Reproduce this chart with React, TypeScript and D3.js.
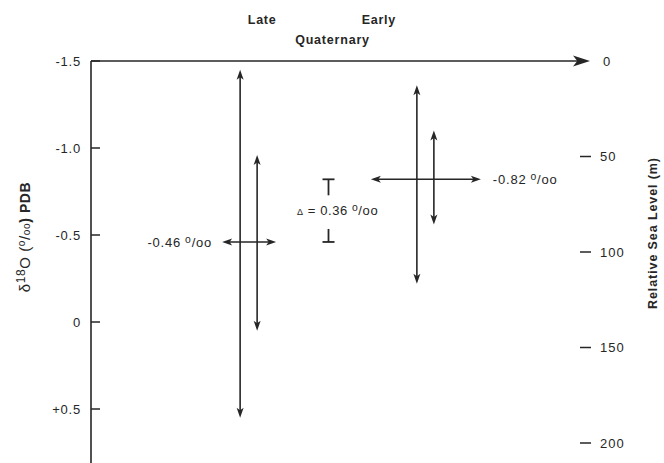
import React from 'react';
import * as d3 from 'd3';

// values
const periods = ['Late', 'Early'];
const meanDelta = [-0.46, -0.82];
const meanLabels = ['-0.46', '-0.82'];
const longRange: [number, number][] = [[-1.45, 0.55], [-1.36, -0.22]];
const shortRange: [number, number][] = [[-0.96, 0.05], [-1.1, -0.56]];
const deltaTicks = [-1.5, -1.0, -0.5, 0, 0.5];
const deltaTickLabels = ['-1.5', '-1.0', '-0.5', '0', '+0.5'];
const seaTicks = [0, 50, 100, 150, 200];
const diffRange: [number, number] = [-0.82, -0.46];
const diffLabel = '0.36';

const W = 664;
const H = 463;
const ink = '#262626';
const font = 'Liberation Sans, Arial, sans-serif';

const y = d3.scaleLinear().domain([-1.5, 0.5]).range([61, 409]);
const sea = d3.scaleLinear().domain([0, 200]).range([61, 443]);
const x = d3.scalePoint<string>().domain(periods).range([91, 582]).padding(0.889);

const left = 91;
const right = 590;

// filled arrow head, tip at (tx,ty), pointing dir
function head(tx: number, ty: number, dir: 'up' | 'down' | 'left' | 'right', len = 10, hw = 3.5) {
  const p = d3.path();
  if (dir === 'up' || dir === 'down') {
    const s = dir === 'up' ? 1 : -1;
    p.moveTo(tx, ty);
    p.lineTo(tx - hw, ty + s * len);
    p.lineTo(tx, ty + s * len * 0.75);
    p.lineTo(tx + hw, ty + s * len);
  } else {
    const s = dir === 'left' ? 1 : -1;
    p.moveTo(tx, ty);
    p.lineTo(tx + s * len, ty - hw);
    p.lineTo(tx + s * len * 0.75, ty);
    p.lineTo(tx + s * len, ty + hw);
  }
  p.closePath();
  return <path d={p.toString()} fill={ink} />;
}

function VArrow({ cx, r }: { cx: number; r: [number, number] }) {
  const y0 = y(r[0]);
  const y1 = y(r[1]);
  return (
    <g>
      <line x1={cx} x2={cx} y1={y0 + 6} y2={y1 - 6} stroke={ink} strokeWidth={1.6} />
      {head(cx, y0, 'up')}
      {head(cx, y1, 'down')}
    </g>
  );
}

function HArrow({ cy, x0, x1 }: { cy: number; x0: number; x1: number }) {
  return (
    <g>
      <line x1={x0 + 6} x2={x1 - 6} y1={cy} y2={cy} stroke={ink} strokeWidth={1.6} />
      {head(x0, cy, 'left')}
      {head(x1, cy, 'right')}
    </g>
  );
}

function PerMil({ size = 13 }: { size?: number }) {
  return (
    <>
      <tspan dx={4} dy={-4} fontSize={size * 0.8}>o</tspan>
      <tspan dy={4}>/oo</tspan>
    </>
  );
}

export default function App() {
  const halfW = [27, 55];
  const labelPeriodDx = [14, -46];
  const tx = ((x('Late') as number) + (x('Early') as number)) / 2 - 8;

  return (
    <svg width={W} height={H} style={{ position: 'absolute', left: 0, top: 0, background: '#fff' }} fontFamily={font}>
      {/* top axis with arrow */}
      <line x1={left} x2={right - 12} y1={y(-1.5)} y2={y(-1.5)} stroke={ink} strokeWidth={1.6} />
      {head(right, y(-1.5), 'right', 17, 5.5)}
      {/* left axis */}
      <line x1={left} x2={left} y1={y(-1.5)} y2={H} stroke={ink} strokeWidth={1.6} />
      {deltaTicks.map((t, i) => (
        <g key={t}>
          <line x1={left} x2={left + 9} y1={y(t)} y2={y(t)} stroke={ink} strokeWidth={1.5} />
          <text x={81} y={y(t)} dy="0.35em" textAnchor="end" fontSize={13} letterSpacing={0.8} fill={ink}>
            {deltaTickLabels[i]}
          </text>
        </g>
      ))}
      <text transform={`translate(30,${237}) rotate(-90)`} textAnchor="middle" fontSize={15} letterSpacing={0.6} fill={ink}>
        δ<tspan dy={-5} fontSize={12}>18</tspan>
        <tspan dy={5}>O (</tspan>
        <tspan dy={-5} fontSize={10}>o</tspan>
        <tspan dy={5}>/</tspan>
        <tspan fontSize={10}>oo</tspan>
        <tspan fontSize={14} fontWeight="bold">) PDB</tspan>
      </text>

      {/* right sea level scale */}
      {seaTicks.map((t) => (
        <g key={t}>
          {t > 0 && <line x1={580} x2={591} y1={sea(t)} y2={sea(t)} stroke={ink} strokeWidth={1.5} />}
          <text x={t > 0 ? 600 : 603} y={sea(t)} dy="0.35em" fontSize={13} letterSpacing={1} fill={ink}>
            {t}
          </text>
        </g>
      ))}
      <text transform={`translate(657,${233}) rotate(-90)`} textAnchor="middle" fontSize={12.5} letterSpacing={0.9} fontWeight="bold" fill={ink}>
        Relative Sea Level (m)
      </text>

      {/* period labels */}
      {periods.map((p, i) => (
        <text key={p} x={(x(p) as number) + labelPeriodDx[i]} y={20} dy="0.35em" textAnchor="middle" fontSize={12.5} letterSpacing={0.7} fontWeight="bold" fill={ink}>
          {p}
        </text>
      ))}
      <text x={tx + 4} y={40} dy="0.35em" textAnchor="middle" fontSize={12.5} letterSpacing={0.8} fontWeight="bold" fill={ink}>
        Quaternary
      </text>

      {/* range arrows */}
      {periods.map((p, i) => {
        const cx = x(p) as number;
        return (
          <g key={p}>
            <VArrow cx={cx - 8} r={longRange[i]} />
            <VArrow cx={cx + 9} r={shortRange[i]} />
            <HArrow cy={y(meanDelta[i])} x0={cx + 1 - halfW[i]} x1={cx + 1 + halfW[i]} />
          </g>
        );
      })}
      <text x={x('Late') as number - 36} y={y(meanDelta[0])} dy="0.35em" textAnchor="end" fontSize={13} letterSpacing={0.8} fill={ink}>
        {meanLabels[0]}
        <PerMil />
      </text>
      <text x={(x('Early') as number) + 68} y={y(meanDelta[1])} dy="0.35em" fontSize={13} letterSpacing={0.8} fill={ink}>
        {meanLabels[1]}
        <PerMil />
      </text>

      {/* difference bracket */}
      <g stroke={ink} strokeWidth={1.8}>
        <line x1={tx - 6} x2={tx + 6} y1={y(diffRange[0])} y2={y(diffRange[0])} />
        <line x1={tx} x2={tx} y1={y(diffRange[0])} y2={y(diffRange[0]) + 16} />
        <line x1={tx - 6} x2={tx + 6} y1={y(diffRange[1])} y2={y(diffRange[1])} />
        <line x1={tx} x2={tx} y1={y(diffRange[1])} y2={y(diffRange[1]) - 13} />
      </g>
      <text x={297} y={(y(diffRange[0]) + y(diffRange[1])) / 2} dy="0.35em" fontSize={13} letterSpacing={0.6} fill={ink}>
        <tspan fontSize={9}>Δ</tspan> = {diffLabel}
        <PerMil />
      </text>
    </svg>
  );
}
